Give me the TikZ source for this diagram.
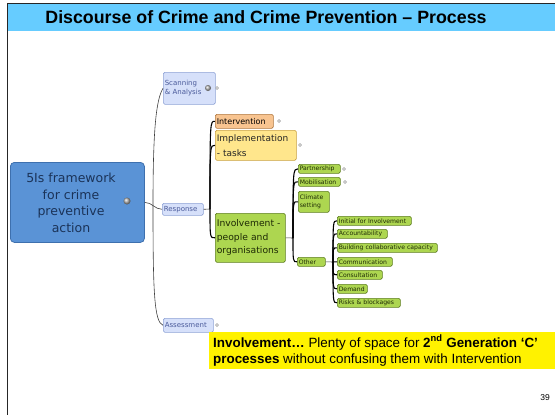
\documentclass[tikz,border=0pt]{standalone}
\usepackage{fontspec}
\setmainfont{Liberation Sans}
\newfontfamily\mmfont{DejaVu Sans}
\usetikzlibrary{shadings}
\definecolor{titlebg}{HTML}{66CCFF}
\definecolor{mainfill}{HTML}{5A93D6}
\definecolor{maindraw}{HTML}{3E70AE}
\definecolor{maintext}{HTML}{1B3358}
\definecolor{lbfill}{HTML}{D6E0FA}
\definecolor{lbdraw}{HTML}{8FA3D6}
\definecolor{lbtext}{HTML}{4A5A9A}
\definecolor{orfill}{HTML}{F8C490}
\definecolor{ordraw}{HTML}{B07840}
\definecolor{yefill}{HTML}{FFE68C}
\definecolor{yedraw}{HTML}{C8A040}
\definecolor{grfill}{HTML}{ADD650}
\definecolor{grdraw}{HTML}{5E7E20}
\definecolor{grtext}{HTML}{1E2A05}
\definecolor{linkc}{HTML}{404040}
\tikzset{
  mmbox/.style={rounded corners=1.5pt, anchor=north west, inner sep=1.5pt, line width=0.6pt, align=left},
  lbbox/.style={mmbox, fill=lbfill, draw=lbdraw, text=lbtext, font=\mmfont\fontsize{7}{8.5}\selectfont, text width=#1},
  orbox/.style={mmbox, fill=orfill, draw=ordraw, text=black, font=\mmfont\fontsize{8}{10}\selectfont, text width=#1},
  yebox/.style={mmbox, fill=yefill, draw=yedraw, text=black!85, font=\mmfont\fontsize{9}{15}\selectfont, text width=#1},
  grbox/.style={mmbox, fill=grfill, draw=grdraw, text=grtext, font=\mmfont\fontsize{9.2}{13.5}\selectfont, text width=#1},
  grsmall/.style={mmbox, fill=grfill, draw=grdraw, text=grtext, font=\mmfont\fontsize{6.1}{7.6}\selectfont, text width=#1, minimum height=9pt},
  link/.style={draw=linkc, line width=0.6pt},
  boldlink/.style={draw=black, line width=1.1pt},
  plusdot/.style={circle, fill=gray!40, draw=gray!70, line width=0.3pt, inner sep=0pt, minimum size=3.5pt},
  globe/.style={circle, inner sep=0pt, minimum size=7pt, ball color=gray!60}
}
\begin{document}
\begin{tikzpicture}[x=1pt,y=-1pt]
\useasboundingbox (0,0) rectangle (555,415);
\fill[white] (0,0) rectangle (555,415);
% title bar
\fill[titlebg] (7,3) rectangle (555,31);
\draw[line width=0.9pt, black!85] (555,3) -- (7,3) -- (7,415);
\node[font=\fontsize{17.8}{19}\selectfont\bfseries] (title) at (266,17) {Discourse of Crime and Crime Prevention – Process};

% main node
\node[rounded corners=4pt, anchor=north west, fill=mainfill, draw=maindraw, line width=0.8pt,
  minimum width=134pt, minimum height=80pt, inner sep=0pt] (main) at (10,162) {};
\node[text=maintext, align=center, font=\mmfont\fontsize{12.5}{16.5}\selectfont] (maintxt) at (71,203)
  {5Is framework\\for crime\\preventive\\action};
\node[globe] (mainicon) at (127,201) {};

% level 1
\node[lbbox=49pt, minimum height=32pt] (scan) at (163,72) {Scanning\\\& Analysis};
\node[globe, minimum size=6pt] (scanicon) at (208,88) {};
\node[plusdot] (scandot) at (217,88) {};
\node[lbbox=38pt, minimum height=12pt] (resp) at (162,203) {\mbox{Response}};
\node[lbbox=47pt, minimum height=14pt] (assess) at (163,318) {\mbox{Assessment}};
\node[plusdot] (assessdot) at (217,325) {};

\coordinate (trunk) at (153,205);
\draw[link] (main.east) to[out=0,in=180] (resp.west);
\draw[link] (scan.west) .. controls (156,100) and (153,130) .. (trunk);
\draw[link] (trunk) .. controls (153,290) and (154,322) .. (assess.west);

% level 2 (Response)
\node[orbox=55pt, minimum height=14pt] (interv) at (215,114) {\mbox{Intervention}};
\node[plusdot] (intervdot) at (279,121) {};
\node[yebox=78pt, minimum height=30pt] (impl) at (215,130) {Implementation\\- tasks};
\node[plusdot] (impldot) at (300,145) {};
\node[grbox=67pt, minimum height=49pt] (invol) at (215,213) {Involvement -\\people and\\organisations};

\coordinate (rhub) at (210,209);
\draw[link] (resp.east) -- (rhub);
\draw[boldlink] (rhub) .. controls (210,121) .. (interv.west);
\draw[boldlink] (rhub) .. controls (210,145) .. (impl.west);
\draw[boldlink] (rhub) .. controls (210,238) .. (invol.west);

% level 3 (Involvement)
\node[grsmall=39pt] (partner) at (298,164) {\mbox{Partnership}};
\node[plusdot] (partnerdot) at (344,169) {};
\node[grsmall=39pt] (mobil) at (298,177) {\mbox{Mobilisation}};
\node[plusdot] (mobildot) at (345,182) {};
\node[grsmall=28pt, minimum height=21pt] (climate) at (298,191) {Climate\\setting};
\node[grsmall=25pt] (other) at (297,257) {\mbox{Other}};

\coordinate (ihub) at (293,238);
\draw[link] (invol.east) -- (ihub);
\draw[boldlink] (ihub) .. controls (293,169) .. (partner.west);
\draw[boldlink] (ihub) .. controls (293,181) .. (mobil.west);
\draw[boldlink] (ihub) .. controls (293,201) .. (climate.west);
\draw[boldlink] (ihub) .. controls (293,262) .. (other.west);

% level 4 (Other)
\node[grsmall=71pt] (initial) at (337,216) {\mbox{Initial for Involvement}};
\node[grsmall=47pt] (account) at (337,229) {\mbox{Accountability}};
\node[grsmall=97pt] (build) at (337,243) {\mbox{Building collaborative capacity}};
\node[grsmall=52pt] (comm) at (337,257) {\mbox{Communication}};
\node[grsmall=42pt] (consult) at (337,270) {\mbox{Consultation}};
\node[grsmall=27pt] (demand) at (337,284) {\mbox{Demand}};
\node[grsmall=60pt] (risks) at (337,298) {\mbox{Risks \& blockages}};

\coordinate (ohub) at (333,262);
\draw[link] (other.east) -- (ohub);
\foreach \n in {initial,account,build,comm,consult,demand,risks}{
  \draw[boldlink] (ohub) .. controls (ohub |- \n.west) .. (\n.west);
}

% yellow callout
\node[anchor=north west, fill=yellow, minimum width=346pt, minimum height=37pt, inner sep=0pt] (callout) at (209,332) {};
\node[anchor=north west, align=left, font=\fontsize{13.4}{16.5}\selectfont, inner sep=0pt] (callouttxt) at (213,335)
  {\textbf{Involvement…} Plenty of space for \textbf{2\textsuperscript{nd} Generation ‘C’}\\\textbf{processes} without confusing them with Intervention};

% page number
\node[font=\fontsize{8.5}{10}\selectfont] (pagenum) at (545,398) {39};
\end{tikzpicture}
\end{document}
